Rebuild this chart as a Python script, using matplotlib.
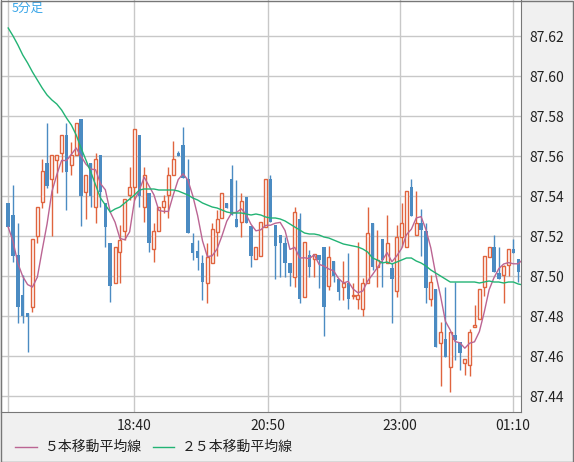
import matplotlib.pyplot as plt
import numpy as np
import pandas as pd

plt.rcParams['font.family'] = ['Noto Sans CJK JP', 'DejaVu Sans']

# 5-minute candles (open, high, low, close)
opens = [87.5365, 87.5305, 87.5105, 87.4905, 87.4815, 87.4845, 87.520, 87.537, 87.5565, 87.5485,
         87.558, 87.5615, 87.5705, 87.5555, 87.5605, 87.5785, 87.542, 87.5565, 87.5345, 87.5605,
         87.5365, 87.5165, 87.4965, 87.512, 87.5225, 87.5405, 87.5445, 87.5705, 87.5345, 87.5415,
         87.5135, 87.5225, 87.5345, 87.5405, 87.5505, 87.5615, 87.5655, 87.5485, 87.5165, 87.5125,
         87.5065, 87.4965, 87.5065, 87.522, 87.529, 87.5365, 87.5485, 87.5285, 87.527, 87.5395,
         87.525, 87.5085, 87.510, 87.5245, 87.5485, 87.5255, 87.5205, 87.5165, 87.5065, 87.4995,
         87.5285, 87.4895, 87.5105, 87.5085, 87.5105, 87.5145, 87.495, 87.5075, 87.4985, 87.4945,
         87.4965, 87.490, 87.4885, 87.4835, 87.4965, 87.5265, 87.5045, 87.5185, 87.5065, 87.504,
         87.4925, 87.5195, 87.5145, 87.5445, 87.5205, 87.5265, 87.5225, 87.4885, 87.4935, 87.4665,
         87.4685, 87.4545, 87.4705, 87.467, 87.4565, 87.4555, 87.4745, 87.4785, 87.4945, 87.5095,
         87.5145, 87.5015, 87.5005, 87.5055, 87.5135, 87.5085, 87.502]
highs = [87.5365, 87.5455, 87.5265, 87.5005, 87.4815, 87.5185, 87.5345, 87.5585, 87.5765, 87.5605,
         87.5605, 87.5705, 87.5765, 87.567, 87.5765, 87.5785, 87.5505, 87.5565, 87.5615, 87.5605,
         87.5365, 87.5165, 87.5145, 87.5255, 87.5385, 87.5545, 87.5735, 87.5705, 87.5545, 87.5415,
         87.5265, 87.5345, 87.5405, 87.5545, 87.5675, 87.5625, 87.5745, 87.5585, 87.5215, 87.518,
         87.5105, 87.5165, 87.5265, 87.533, 87.5415, 87.5365, 87.5555, 87.548, 87.5415, 87.5395,
         87.525, 87.5145, 87.527, 87.5485, 87.5505, 87.5255, 87.5205, 87.5195, 87.5065, 87.5345,
         87.5315, 87.517, 87.513, 87.511, 87.5105, 87.5145, 87.515, 87.5075, 87.4985, 87.5075,
         87.5115, 87.4965, 87.517, 87.499, 87.5345, 87.5265, 87.523, 87.5185, 87.5305, 87.5065,
         87.5255, 87.5365, 87.5425, 87.5485, 87.5425, 87.5335, 87.5265, 87.5005, 87.4935, 87.477,
         87.4945, 87.472, 87.497, 87.467, 87.4585, 87.4735, 87.4855, 87.4935, 87.510, 87.5145,
         87.5205, 87.5145, 87.5055, 87.5135, 87.5185, 87.5085, 87.5175]
lows = [87.5245, 87.507, 87.4765, 87.4765, 87.462, 87.482, 87.5165, 87.534, 87.544, 87.520,
        87.5415, 87.552, 87.533, 87.5505, 87.5605, 87.525, 87.5285, 87.5345, 87.5265, 87.5345,
        87.5145, 87.487, 87.4965, 87.4965, 87.518, 87.538, 87.538, 87.5345, 87.527, 87.512,
        87.507, 87.5225, 87.5315, 87.529, 87.5505, 87.560, 87.549, 87.5215, 87.508, 87.503,
        87.488, 87.4865, 87.5065, 87.510, 87.529, 87.534, 87.5305, 87.5245, 87.5195, 87.5265,
        87.5045, 87.5085, 87.510, 87.5245, 87.527, 87.4985, 87.4995, 87.4995, 87.495, 87.4945,
        87.4865, 87.4895, 87.4995, 87.4995, 87.494, 87.470, 87.493, 87.497, 87.488, 87.488,
        87.4835, 87.4885, 87.4835, 87.480, 87.4965, 87.503, 87.4945, 87.4945, 87.5065, 87.4765,
        87.4895, 87.5145, 87.5145, 87.530, 87.5205, 87.510, 87.4865, 87.485, 87.4645, 87.445,
        87.4595, 87.442, 87.458, 87.453, 87.4505, 87.450, 87.4745, 87.4785, 87.490, 87.5095,
        87.502, 87.4985, 87.4865, 87.500, 87.5115, 87.497, 87.502]
closes = [87.5245, 87.510, 87.4845, 87.480, 87.4795, 87.5185, 87.5345, 87.5525, 87.545, 87.5605,
          87.5605, 87.5705, 87.552, 87.5605, 87.5765, 87.540, 87.5505, 87.540, 87.5585, 87.542,
          87.5245, 87.495, 87.5145, 87.518, 87.5385, 87.5445, 87.5735, 87.540, 87.5505, 87.5165,
          87.5225, 87.5345, 87.5375, 87.5505, 87.5585, 87.560, 87.549, 87.5215, 87.5115, 87.509,
          87.497, 87.5095, 87.5235, 87.5285, 87.5415, 87.534, 87.5305, 87.5245, 87.5375, 87.5265,
          87.510, 87.5145, 87.527, 87.5485, 87.527, 87.515, 87.5165, 87.5065, 87.5015, 87.532,
          87.4885, 87.517, 87.5045, 87.511, 87.508, 87.4845, 87.5095, 87.500, 87.492, 87.4965,
          87.4885, 87.4905, 87.4905, 87.4965, 87.5215, 87.5045, 87.508, 87.508, 87.5165, 87.4985,
          87.5195, 87.5265, 87.5425, 87.530, 87.5265, 87.523, 87.494, 87.497, 87.4645, 87.472,
          87.4595, 87.472, 87.468, 87.4615, 87.4585, 87.472, 87.4755, 87.4935, 87.510, 87.5145,
          87.502, 87.4985, 87.505, 87.5135, 87.5115, 87.502, 87.510]

# 25-period moving average (history before the window is not shown)
ma25 = [87.624, 87.620, 87.6155, 87.6105, 87.6065, 87.602, 87.598, 87.594, 87.5905, 87.588,
        87.586, 87.583, 87.579, 87.5755, 87.5705, 87.564, 87.558, 87.552, 87.5455, 87.539,
        87.5355, 87.532, 87.5335, 87.5345, 87.5365, 87.5385, 87.5405, 87.543, 87.5435, 87.5435,
        87.5435, 87.543, 87.543, 87.543, 87.543, 87.5425, 87.5415, 87.5405, 87.539, 87.538,
        87.5365, 87.5355, 87.5345, 87.534, 87.533, 87.532, 87.5315, 87.5315, 87.5315, 87.531,
        87.5305, 87.531, 87.5305, 87.5295, 87.529, 87.529, 87.5285, 87.5275, 87.526, 87.5245,
        87.523, 87.5215, 87.521, 87.521, 87.5205, 87.5195, 87.519, 87.518, 87.517, 87.516,
        87.5155, 87.515, 87.5145, 87.5135, 87.512, 87.509, 87.508, 87.5065, 87.507, 87.506,
        87.507, 87.508, 87.509, 87.509, 87.5075, 87.5065, 87.505, 87.503, 87.5015, 87.500,
        87.4985, 87.497, 87.497, 87.497, 87.497, 87.497, 87.497, 87.4965, 87.497, 87.4975,
        87.497, 87.497, 87.4965, 87.497, 87.497, 87.496, 87.4955]

time_ticks = [0, 25.9, 53.4, 80.7, 103.9]
time_labels = ["", "18:40", "20:50", "23:00", "01:10"]
price_ticks = [87.44, 87.46, 87.48, 87.50, 87.52, 87.54, 87.56, 87.58, 87.60, 87.62]

UP = "#e0643e"
DOWN = "#4b8bc2"
MA5_C = "#bb6593"
MA25_C = "#22b374"

o = np.array(opens)
h = np.array(highs)
l = np.array(lows)
c = np.array(closes)
x = np.arange(len(o))
ma5 = pd.Series(c).rolling(5, min_periods=1).mean()

fig = plt.figure(figsize=(5.74, 4.62), dpi=100, facecolor="#f0f0f0")
ax = fig.add_axes([0.002, 50 / 462, 520 / 574, 412 / 462])
ax.set_facecolor("white")

up = c >= o
ax.vlines(x[up], l[up], h[up], color=UP, lw=1, zorder=2)
ax.vlines(x[~up], l[~up], h[~up], color=DOWN, lw=1, zorder=2)
ax.bar(x[up], c[up] - o[up], bottom=o[up], width=0.62, facecolor="white",
       edgecolor=UP, lw=1, zorder=3)
ax.bar(x[~up], o[~up] - c[~up], bottom=c[~up], width=0.7, color=DOWN, lw=0, zorder=3)

ax.plot(x, ma5, color=MA5_C, lw=1, zorder=4)
ax.plot(x, ma25, color=MA25_C, lw=1, zorder=4)

ax.set_xlim(-1.45, 105.6)
ax.set_ylim(87.432, 87.638)
ax.set_xticks(time_ticks)
ax.set_xticklabels(time_labels)
ax.set_yticks(price_ticks)
ax.set_yticklabels([f"{p:.2f}" for p in price_ticks])
ax.yaxis.tick_right()
ax.tick_params(length=0, labelsize=10, colors="#222222", pad=6)
ax.tick_params(axis="x", pad=5)
ax.grid(color="#c8c8c8", lw=1)
ax.set_axisbelow(True)
for side, sp in ax.spines.items():
    sp.set_color("#777777")
ax.spines["top"].set_visible(False)

ax.text(0.02, 0.995, "5分足", transform=ax.transAxes, color="#3aa6e8",
        fontsize=9, va="top", ha="left")

ly = 15 / 462
fig.add_artist(plt.Line2D([15 / 574, 37 / 574], [ly, ly], color=MA5_C, lw=1,
                          transform=fig.transFigure))
fig.text(45 / 574, ly, "５本移動平均線", fontsize=10, va="center", color="#222222")
fig.add_artist(plt.Line2D([153 / 574, 174 / 574], [ly, ly], color=MA25_C, lw=1,
                          transform=fig.transFigure))
fig.text(182 / 574, ly, "２５本移動平均線", fontsize=10, va="center", color="#222222")

# outer frame
fig.add_artist(plt.Rectangle((0.001, 0.001), 0.997, 0.997, transform=fig.transFigure,
                             fill=False, edgecolor="#777777", lw=1))

fig.savefig("out.png", dpi=100, facecolor=fig.get_facecolor())
